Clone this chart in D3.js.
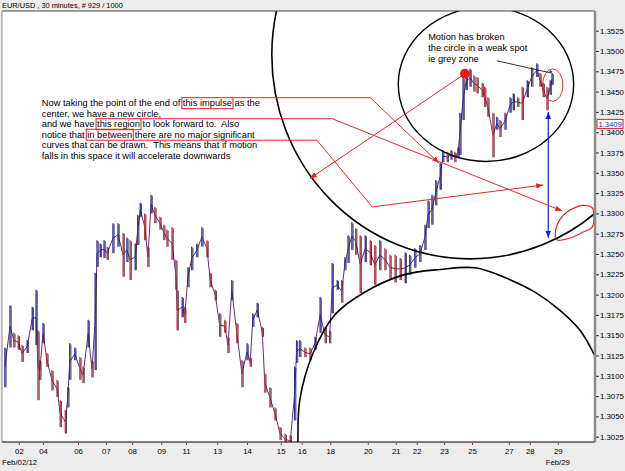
<!DOCTYPE html>
<html lang="en">
<head>
<meta charset="UTF-8">
<title>EUR/USD, 30 minutes</title>
<script src="https://cdn.jsdelivr.net/npm/d3@7/dist/d3.min.js"></script>
<style>
  body { margin: 0; background: #ececec; }
  svg text { font-family: "Liberation Sans", Arial, sans-serif; }
  .axis text { font-size: 7.8px; fill: #000; }
  .axis .domain { display: none; }
  .note { font-size: 9.3px; fill: #000; white-space: pre; }
</style>
</head>
<body>
<svg id="chart" width="625" height="471"></svg>
<script>
// price samples: [bar index, high, low]
const bars = [
  [3,1.3135,1.3086],[11,1.3187,1.3135],[17,1.3153,1.3135],[24,1.3150,1.3132],[30,1.3138,1.3117],
  [38,1.3144,1.3128],[46,1.3185,1.3156],[52,1.3206,1.3138],[55,1.3156,1.3070],[58,1.3119,1.3095],
  [63,1.3165,1.3140],[69,1.3128,1.3111],[77,1.3107,1.3082],[85,1.3095,1.3074],[90,1.3070,1.3037],
  [98,1.3058,1.3029],[102,1.3086,1.3061],[105,1.3140,1.3095],[113,1.3135,1.3119],[121,1.3123,1.3095],
  [126,1.3111,1.3091],[134,1.3169,1.3135],[140,1.3119,1.3098],[145,1.3227,1.3107],[148,1.3267,1.3234],
  [153,1.3263,1.3246],[159,1.3267,1.3245],[164,1.3259,1.3243],[173,1.3288,1.3251],[181,1.3288,1.3259],
  [189,1.3276,1.3222],[195,1.3270,1.3240],[200,1.3267,1.3218],[208,1.3263,1.3230],[212,1.3298,1.3261],
  [216,1.3313,1.3296],[223,1.3300,1.3267],[228,1.3259,1.3234],[233,1.3323,1.3300],[239,1.3308,1.3288],
  [247,1.3296,1.3280],[253,1.3286,1.3267],[258,1.3280,1.3259],[266,1.3283,1.3243],[272,1.3243,1.3206],
  [274,1.3206,1.3156],[282,1.3197,1.3172],[286,1.3185,1.3165],[291,1.3234,1.3209],[297,1.3259,1.3230],
  [305,1.3263,1.3246],[313,1.3283,1.3259],[321,1.3267,1.3246],[326,1.3227,1.3209],[334,1.3206,1.3193],
  [341,1.3177,1.3148],[349,1.3169,1.3153],[354,1.3148,1.3128],[360,1.3218,1.3193],[368,1.3165,1.3140],
  [376,1.3119,1.3086],[384,1.3140,1.3119],[389,1.3123,1.3111],[393,1.3177,1.3160],[400,1.3190,1.3172],
  [408,1.3160,1.3148],[412,1.3103,1.3079],[420,1.3086,1.3061],[428,1.3061,1.3045],[436,1.3037,1.3021],
  [444,1.3029,1.3015],[452,1.3027,1.3012],[459,1.3111,1.3045],[462,1.3144,1.3116],[467,1.3144,1.3123],
  [475,1.3135,1.3123],[483,1.3135,1.3119],[491,1.3148,1.3132],[499,1.3197,1.3153],[507,1.3160,1.3140],
  [514,1.3156,1.3140],[518,1.3239,1.3177],[526,1.3218,1.3206],[533,1.3218,1.3190],[538,1.3246,1.3230],
  [543,1.3273,1.3239],[549,1.3289,1.3255],[555,1.3282,1.3249],[562,1.3273,1.3202],[570,1.3273,1.3240],
  [578,1.3267,1.3236],[585,1.3261,1.3212],[593,1.3267,1.3230],[601,1.3257,1.3230],[609,1.3249,1.3218],
  [617,1.3249,1.3215],[625,1.3245,1.3218],[633,1.3252,1.3214],[640,1.3249,1.3224],[648,1.3257,1.3233],
  [656,1.3261,1.3240],[664,1.3286,1.3255],[669,1.3316,1.3282],[675,1.3323,1.3286],[681,1.3341,1.3310],
  [688,1.3362,1.3329],[692,1.3378,1.3363],[699,1.3376,1.3363],[705,1.3378,1.3366],[711,1.3376,1.3363],
  [716,1.3381,1.3368],[719,1.3424,1.3372],[724,1.3467,1.3415],[729,1.3474,1.3452],[735,1.3478,1.3456],
  [741,1.3470,1.3450],[746,1.3468,1.3448],[754,1.3461,1.3443],[758,1.3456,1.3431],[763,1.3443,1.3419],
  [771,1.3424,1.3369],[777,1.3419,1.3403],[782,1.3415,1.3394],[790,1.3424,1.3403],[798,1.3443,1.3424],
  [803,1.3448,1.3427],[810,1.3443,1.3431],[817,1.3456,1.3415],[825,1.3464,1.3443],[832,1.3480,1.3456],
  [840,1.3485,1.3468],[845,1.3473,1.3456],[850,1.3461,1.3443],[856,1.3456,1.3427],[861,1.3464,1.3446],
  [864,1.3473,1.3458]
]

const dayBars = [25, 63, 118, 162, 203, 249, 288, 337, 384, 437, 470, 515, 574, 618, 651, 694, 738, 796, 829, 873]
const dayLabels = ['02','04','06','07','08','09','11','13','14','15','16','18','20','21','22','23','25','27','28','29']
const priceTicks = [1.3025,1.3050,1.3075,1.3100,1.3125,1.3150,1.3175,1.3200,1.3225,1.3250,1.3275,
                    1.3300,1.3325,1.3350,1.3375,1.3400,1.3425,1.3450,1.3475,1.3500,1.3525]
const lastPrice = 1.3409

// annotations, in bar / price units
const bigCircle = { bar: 735, price: 1.3495, rBars: 312, rPrice: 0.0251 }
const smallCircle = { bar: 760, price: 1.3459, rBars: 138, rPrice: 0.0095 }
const lowerArc = [[464,1.2984],[464,1.3015],[467,1.3070],[488,1.3128],[522,1.3175],[567,1.3202],[629,1.3224],
                  [688,1.3231],[743,1.3233],[793,1.3220],[837,1.3203],[876,1.3181],[908,1.3156],[933,1.3122]]
const redLoop = [[869,1.3271],[870,1.3281],[876,1.3292],[888,1.3302],[903,1.3308],[913,1.3310],[927,1.3307],
                 [930,1.3296],[927,1.3283],[913,1.3277],[897,1.3271],[884,1.3268],[873,1.3267],[869,1.3271]]
const redOval = { bar: 865, price: 1.3458, rBars: 16, rPrice: 0.0020 }
const impulseEnd = [727, 1.3472]
const dotArrowTip = [483, 1.3343]
const blueArrow = { bar: 858, top: 1.3425, bottom: 1.3270 }

const noteLines = [
  'Now taking the point of the end of [this impulse] as the',
  'center, we have a new circle,',
  'and we have [this region] to look forward to.  Also',
  'notice that [in between] there are no major significant',
  'curves that can be drawn.  This means that if motion',
  'falls in this space it will accelerate downwards'
]
const noteAnchor = [61, 1.3432]
// from each boxed word: bend points then arrow tip
const boxLinks = [
  { edge: 'top', points: [[578, null], [686, 1.3362]] },
  { edge: 'top', points: [[518, null], [880, 1.3303]] },
  { edge: 'bottom', points: [[494, null], [581, 1.3308], [850, 1.3335]] }
]
const motionLines = ['Motion has broken', 'the circle in a weak spot', 'ie grey zone']
const motionAnchor = [669, 1.3514]
const motionPointer = [[777, 1.3488], [862, 1.3473]]

// setup
const svg = d3.select('#chart')
const plot = { left: 2, top: 11, right: 595, bottom: 442 }

const x = d3.scaleLinear().domain([0, 930]).range([3, 594])
const y = d3.scaleLinear().domain([1.3025, 1.3525]).range([436.7, 30.7])

svg.append('text')
  .attr('x', 2).attr('y', 8)
  .style('font-size', '7.4px')
  .text('EUR/USD , 30 minutes, # 929 / 1000')

svg.append('rect')
  .attr('x', plot.left).attr('y', plot.top)
  .attr('width', plot.right - plot.left).attr('height', plot.bottom - plot.top)
  .attr('fill', '#fff')

svg.append('clipPath').attr('id', 'clip')
  .append('rect')
  .attr('x', plot.left).attr('y', plot.top)
  .attr('width', plot.right - plot.left).attr('height', plot.bottom - plot.top)

const chart = svg.append('g').attr('clip-path', 'url(#clip)')

// price bars
const mid = d => (d[1] + d[2]) / 2
chart.append('path')
  .attr('d', d3.line().x(d => x(d[0])).y(d => y(mid(d)))(bars))
  .attr('fill', 'none')
  .attr('stroke', '#6a2a6e')
  .attr('stroke-width', 1)

chart.selectAll('.bar')
  .data(bars)
  .enter()
  .append('line')
    .attr('class', 'bar')
    .attr('x1', d => x(d[0])).attr('x2', d => x(d[0]))
    .attr('y1', d => y(d[1])).attr('y2', d => y(d[2]))
    .attr('stroke', (d, i) => i > 0 && mid(d) < mid(bars[i - 1]) ? '#c8283a' : '#2a2ab4')
    .attr('stroke-width', 1.3)

chart.selectAll('.wick')
  .data(bars)
  .enter()
  .append('line')
    .attr('class', 'wick')
    .attr('x1', d => x(d[0]) + 1.2).attr('x2', d => x(d[0]) + 1.2)
    .attr('y1', d => y(d[1]) + 1).attr('y2', d => y(d[2]))
    .attr('stroke', '#1a1a1a')
    .attr('stroke-width', 0.8)

// markers
const defs = svg.append('defs')
const marker = (id, color) => defs.append('marker')
  .attr('id', id)
  .attr('viewBox', '0 0 10 10')
  .attr('refX', 10).attr('refY', 5)
  .attr('markerWidth', 7).attr('markerHeight', 7)
  .attr('markerUnits', 'userSpaceOnUse')
  .attr('orient', 'auto-start-reverse')
  .append('path').attr('d', 'M0,1 L10,5 L0,9 z').attr('fill', color)
marker('redArrow', '#e0282a')
marker('blueArrow', '#1c1ccc')

// circles
const ellipse = (c, color, width) => chart.append('ellipse')
  .attr('cx', x(c.bar)).attr('cy', y(c.price))
  .attr('rx', x(c.bar + c.rBars) - x(c.bar))
  .attr('ry', y(c.price - c.rPrice) - y(c.price))
  .attr('fill', 'none')
  .attr('stroke', color)
  .attr('stroke-width', width)
ellipse(bigCircle, '#000', 1.6)
ellipse(smallCircle, '#000', 1.4)
ellipse(redOval, '#e03030', 1)

const curve = d3.line().x(d => x(d[0])).y(d => y(d[1])).curve(d3.curveCatmullRom)
chart.append('path')
  .attr('d', curve(lowerArc))
  .attr('fill', 'none').attr('stroke', '#000').attr('stroke-width', 1.6)

chart.append('path')
  .attr('d', curve(redLoop))
  .attr('fill', 'none').attr('stroke', '#e02828').attr('stroke-width', 1.2)

// red dot and its arrow
chart.append('line')
  .attr('x1', x(impulseEnd[0])).attr('y1', y(impulseEnd[1]))
  .attr('x2', x(dotArrowTip[0])).attr('y2', y(dotArrowTip[1]))
  .attr('stroke', '#e0282a').attr('stroke-width', 1)
  .attr('marker-end', 'url(#redArrow)')

chart.append('circle')
  .attr('cx', x(impulseEnd[0])).attr('cy', y(impulseEnd[1]))
  .attr('r', 5).attr('fill', '#f01c1c')

// blue double arrow
chart.append('line')
  .attr('x1', x(blueArrow.bar)).attr('x2', x(blueArrow.bar))
  .attr('y1', y(blueArrow.top)).attr('y2', y(blueArrow.bottom))
  .attr('stroke', '#1c1ccc').attr('stroke-width', 1.2)
  .attr('marker-start', 'url(#blueArrow)')
  .attr('marker-end', 'url(#blueArrow)')

// main note
const boxes = []
noteLines.forEach((line, i) => {
  let cx = x(noteAnchor[0])
  const base = y(noteAnchor[1]) + i * 10.5
  line.split(/(\[[^\]]+\])/).filter(s => s.length).forEach(part => {
    const boxed = part.startsWith('[')
    const t = chart.append('text')
      .attr('class', 'note')
      .attr('x', cx).attr('y', base)
      .text(boxed ? part.slice(1, -1) : part)
    const w = t.node().getComputedTextLength()
    if (boxed) boxes.push({ x0: cx - 1, x1: cx + w + 1, top: base - 8.5, bottom: base + 2.5 })
    cx += w
  })
})

boxes.forEach((b, i) => {
  chart.append('rect')
    .attr('x', b.x0).attr('y', b.top)
    .attr('width', b.x1 - b.x0).attr('height', b.bottom - b.top)
    .attr('fill', 'none').attr('stroke', '#d42020').attr('stroke-width', 1)

  const link = boxLinks[i]
  const yEdge = link.edge === 'top' ? b.top : b.bottom
  const pts = [[b.x1, yEdge]].concat(link.points.map(p => [x(p[0]), p[1] === null ? yEdge : y(p[1])]))
  chart.append('path')
    .attr('d', d3.line()(pts))
    .attr('fill', 'none')
    .attr('stroke', '#e0282a').attr('stroke-width', 1)
    .attr('marker-end', 'url(#redArrow)')
})

// motion note
motionLines.forEach((line, i) => {
  chart.append('text')
    .attr('class', 'note')
    .attr('x', x(motionAnchor[0]))
    .attr('y', y(motionAnchor[1]) + i * 11)
    .text(line)
})
chart.append('line')
  .attr('x1', x(motionPointer[0][0])).attr('y1', y(motionPointer[0][1]))
  .attr('x2', x(motionPointer[1][0])).attr('y2', y(motionPointer[1][1]))
  .attr('stroke', '#000').attr('stroke-width', 0.8)
chart.append('text')
  .attr('x', x(motionPointer[1][0])).attr('y', y(motionPointer[1][1]) + 3)
  .attr('text-anchor', 'middle')
  .style('font-size', '9px')
  .text('*')

// frame
svg.append('line').attr('x1', plot.left).attr('x2', plot.right).attr('y1', plot.top).attr('y2', plot.top)
  .attr('stroke', '#444').attr('stroke-width', 1)
svg.append('line').attr('x1', plot.left).attr('x2', plot.left).attr('y1', plot.top).attr('y2', plot.bottom)
  .attr('stroke', '#888').attr('stroke-width', 1)
svg.append('line').attr('x1', plot.left).attr('x2', plot.right).attr('y1', plot.bottom).attr('y2', plot.bottom)
  .attr('stroke', '#000').attr('stroke-width', 1)
svg.append('line').attr('x1', plot.right).attr('x2', plot.right).attr('y1', plot.top).attr('y2', plot.bottom)
  .attr('stroke', '#8c8c8c').attr('stroke-width', 2.5)

// axes
const yAxis = d3.axisRight(y)
  .tickValues(priceTicks)
  .tickSize(3)
  .tickPadding(1)
  .tickFormat(d3.format('.4f'))
const yAxisGroup = svg.append('g')
  .attr('class', 'axis')
  .attr('transform', `translate(${plot.right + 1}, 0)`)
  .call(yAxis)
yAxisGroup.selectAll('line').attr('stroke', '#333')

const xAxis = d3.axisBottom(x)
  .tickValues(dayBars)
  .tickSize(2)
  .tickPadding(3)
  .tickFormat((d, i) => dayLabels[i])
const xAxisGroup = svg.append('g')
  .attr('class', 'axis')
  .attr('transform', `translate(0, ${plot.bottom + 1})`)
  .call(xAxis)
xAxisGroup.selectAll('line').attr('stroke', '#a03030')

svg.append('text').attr('class', 'axis')
  .attr('x', 2).attr('y', 465)
  .style('font-size', '7.8px')
  .text('Feb/02/12')
svg.append('text').attr('class', 'axis')
  .attr('x', x(dayBars[dayBars.length - 1])).attr('y', 465)
  .attr('text-anchor', 'middle')
  .style('font-size', '7.8px')
  .text('Feb/29')

// last price tag
const tag = svg.append('g').attr('transform', `translate(${plot.right + 2}, ${y(lastPrice)})`)
tag.append('rect')
  .attr('x', 0).attr('y', -5.5).attr('width', 26).attr('height', 9)
  .attr('fill', '#fff').attr('stroke', '#d42020').attr('stroke-width', 1)
tag.append('text')
  .attr('x', 13).attr('y', 2)
  .attr('text-anchor', 'middle')
  .style('font-size', '7.6px')
  .attr('fill', '#1c1ccc')
  .text(d3.format('.4f')(lastPrice))
</script>
</body>
</html>
